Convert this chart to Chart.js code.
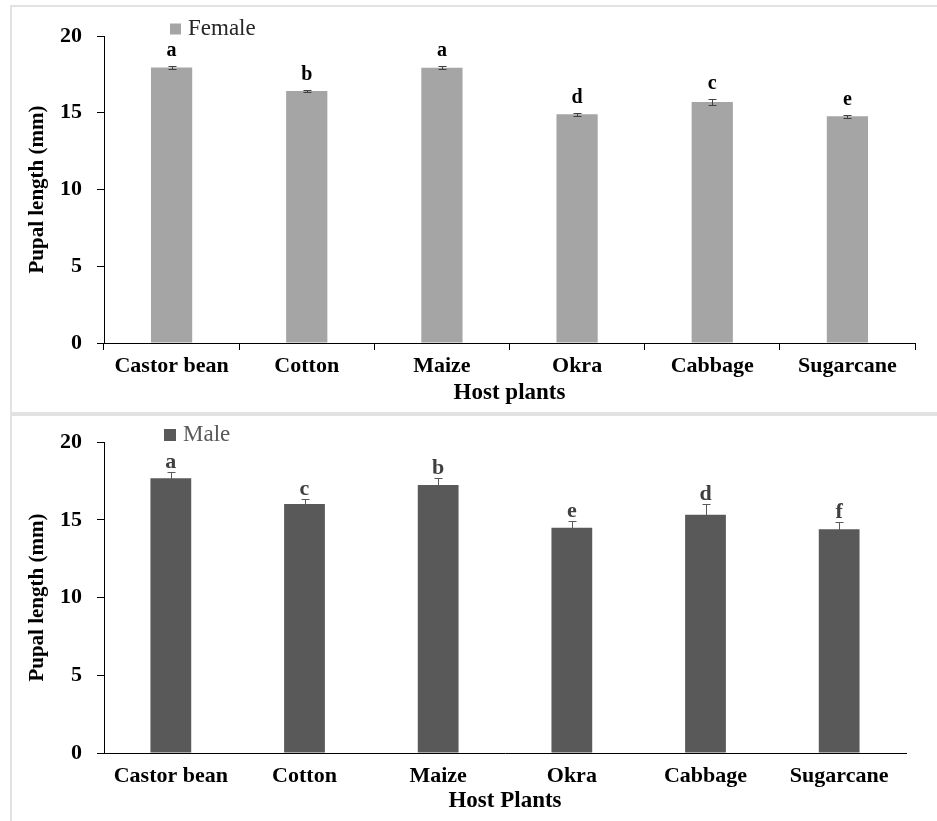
<!DOCTYPE html>
<html><head><meta charset="utf-8">
<script src="https://cdn.jsdelivr.net/npm/chart.js@4/dist/chart.umd.min.js"></script>
<style>
html,body{margin:0;padding:0;background:#fff;}
body{width:937px;height:821px;position:relative;overflow:hidden;}
.panel{position:absolute;border:2px solid #e2e2e2;box-sizing:border-box;}
.wrap{position:absolute;left:0;width:937px;}
canvas{display:block;}
</style></head><body>
<div class="panel" style="left:10px;top:5px;width:940px;height:409px;"></div>
<div class="panel" style="left:10px;top:414px;width:940px;height:420px;"></div>
<div class="wrap" style="top:0;height:413px;"><canvas id="c1" width="937" height="413"></canvas></div>
<div class="wrap" style="top:414px;height:407px;"><canvas id="c2" width="937" height="407"></canvas></div>
<script>
const hostPlants = ['Castor bean','Cotton','Maize','Okra','Cabbage','Sugarcane'];
const femaleLength = [17.95, 16.42, 17.93, 14.90, 15.70, 14.78];
const femaleSE = [0.10, 0.07, 0.10, 0.09, 0.18, 0.10];
const femaleLetters = ['a','b','a','d','c','e'];
const maleLength = [17.68, 16.02, 17.25, 14.50, 15.33, 14.40];
const maleSE = [0.42, 0.30, 0.42, 0.45, 0.72, 0.46];
const maleLetters = ['a','c','b','e','d','f'];
const yTicks = [0, 5, 10, 15, 20];

const FONT = 'Liberation Serif, Times New Roman, serif';

function annotPlugin(cfg) {
  return {
    id: 'annot',
    afterDatasetsDraw(chart) {
      const ctx = chart.ctx;
      const meta = chart.getDatasetMeta(0);
      const ys = chart.scales.y;
      const ds = chart.data.datasets[0];
      ctx.save();
      meta.data.forEach((bar, i) => {
        const v = ds.data[i], e = cfg.errors[i];
        const yT = Math.round(ys.getPixelForValue(v + e)) + 0.5;
        const yB = Math.round(ys.getPixelForValue(v - e)) + 0.5;
        const x = Math.round(bar.x) + 0.5;
        ctx.strokeStyle = cfg.errColor;
        ctx.lineWidth = 1;
        ctx.beginPath();
        ctx.moveTo(x, yT); ctx.lineTo(x, yB);
        ctx.moveTo(x - cfg.cap, yT); ctx.lineTo(x + cfg.cap, yT);
        ctx.moveTo(x - cfg.cap, yB); ctx.lineTo(x + cfg.cap, yB);
        ctx.stroke();
        ctx.fillStyle = cfg.letterColor;
        ctx.font = 'bold ' + cfg.letterSize + 'px ' + FONT;
        ctx.textAlign = 'center';
        ctx.textBaseline = 'alphabetic';
        ctx.fillText(cfg.letters[i], bar.x, yT - cfg.gap);
      });
      // legend
      ctx.fillStyle = ds.backgroundColor;
      ctx.fillRect(cfg.legX, cfg.legY - cfg.legBox / 2, cfg.legBox, cfg.legBox);
      ctx.fillStyle = cfg.legColor;
      ctx.font = cfg.legSize + 'px ' + FONT;
      ctx.textAlign = 'left';
      ctx.textBaseline = 'middle';
      ctx.fillText(ds.label, cfg.legX + cfg.legBox + 7, cfg.legY);
      ctx.restore();
    }
  };
}

function makeChart(id, o) {
  return new Chart(document.getElementById(id), {
    type: 'bar',
    data: {
      labels: hostPlants,
      datasets: [{
        label: o.label,
        data: o.values,
        backgroundColor: o.color,
        borderWidth: 0,
        categoryPercentage: 1,
        barPercentage: 0.305
      }]
    },
    options: {
      responsive: false,
      devicePixelRatio: 1,
      animation: false,
      layout: { padding: { left: 0, top: o.padTop, right: o.padRight, bottom: 0 } },
      plugins: { legend: { display: false }, tooltip: { enabled: false } },
      scales: {
        x: {
          afterFit: s => { s.height = o.xHeight; },
          grid: { offset: true, drawOnChartArea: false, drawTicks: o.xTicks, tickLength: 7, color: '#000', lineWidth: 1 },
          border: { color: '#000', width: 1 },
          ticks: { color: '#000', font: { family: FONT, size: 22, weight: 'bold' }, padding: o.xTickPad, maxRotation: 0, autoSkip: false },
          title: { display: true, text: o.xTitle, color: '#000', font: { family: FONT, size: 23, weight: 'bold' }, padding: { top: 0, bottom: 6 } }
        },
        y: {
          min: 0, max: 20,
          afterBuildTicks: s => { s.ticks = yTicks.map(v => ({ value: v })); },
          afterFit: s => { s.width = 104; },
          grid: { drawOnChartArea: false, drawTicks: true, tickLength: 7, color: '#000', lineWidth: 1 },
          border: { color: '#000', width: 1 },
          ticks: { color: '#000', font: { family: FONT, size: 22, weight: 'bold' }, padding: 15 },
          title: { display: true, text: 'Pupal length (mm)', color: '#000', font: { family: FONT, size: 21, weight: 'bold' }, padding: { top: 25, bottom: 0 } }
        }
      }
    },
    plugins: [annotPlugin(o.annot)]
  });
}

makeChart('c1', {
  label: 'Female', values: femaleLength, color: '#A5A5A5',
  padTop: 36, padRight: 22, xHeight: 70, xTicks: true, xTickPad: 3, xTitle: 'Host plants',
  annot: { errors: femaleSE, letters: femaleLetters, errColor: '#404040', cap: 4, letterColor: '#000', letterSize: 20, gap: 11,
           legX: 170, legY: 29, legBox: 11, legColor: '#262626', legSize: 23 }
});

makeChart('c2', {
  label: 'Male', values: maleLength, color: '#595959',
  padTop: 19, padRight: 31, xHeight: 68, xTicks: false, xTickPad: 10, xTitle: 'Host Plants',
  annot: { errors: maleSE, letters: maleLetters, errColor: '#595959', cap: 4, letterColor: '#404040', letterSize: 22, gap: 5,
           legX: 164, legY: 21, legBox: 12, legColor: '#595959', legSize: 23 }
});
</script>
</body></html>
